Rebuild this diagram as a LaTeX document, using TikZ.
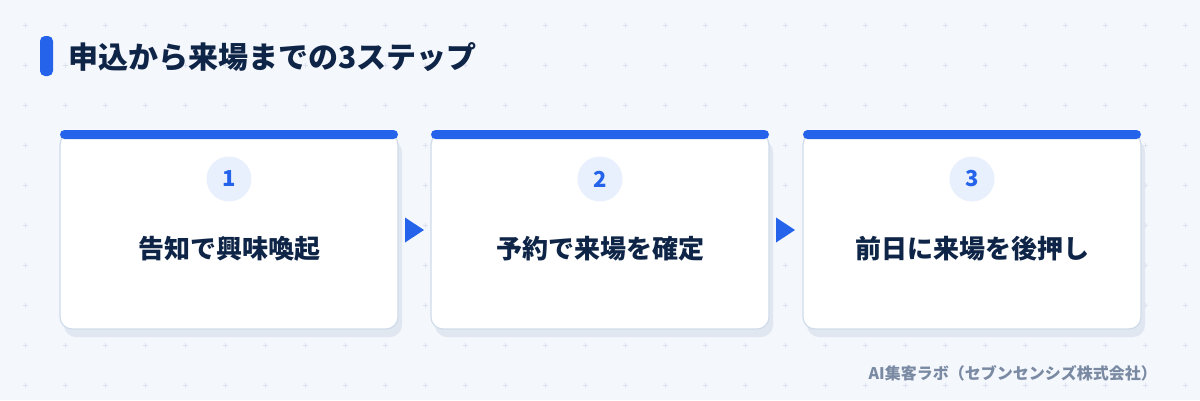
\documentclass[tikz,border=0pt]{standalone}
\usepackage{fontspec}
\setmainfont{Noto Sans CJK JP}
\definecolor{bgc}{HTML}{F4F7FC}
\definecolor{dotc}{HTML}{DCE3EE}
\definecolor{accent}{HTML}{2563EB}
\definecolor{navy}{HTML}{0F2547}
\definecolor{cardborder}{HTML}{CFDBEA}
\definecolor{shadowc}{HTML}{E0E7F1}
\definecolor{circfill}{HTML}{E8F0FD}
\definecolor{footc}{HTML}{7A8AA3}
\tikzset{
  cardbox/.style={draw=cardborder, line width=1.2pt, fill=white, rounded corners=12pt},
  shadowbox/.style={fill=shadowc, rounded corners=12pt},
  topbar/.style={fill=accent, rounded corners=4.5pt},
  numcirc/.style={circle, fill=circfill, minimum size=45pt, inner sep=0pt,
    text=accent, font=\bfseries\fontsize{22}{22}\selectfont},
  cardtext/.style={text=navy, font=\bfseries\fontsize{26}{26}\selectfont},
  flowarrow/.style={fill=accent},
}
\begin{document}
\begin{tikzpicture}[x=1pt,y=-1pt]
\fill[bgc] (0,0) rectangle (1200,400);
\useasboundingbox (0,0) rectangle (1200,400);
% dot grid
\foreach \i in {0,...,29}{
  \foreach \j in {0,...,9}{
    \draw[dotc, line width=0.8pt] ({25+40*\i-2.5},{25+40*\j}) -- ++(5,0) ({25+40*\i},{25+40*\j-2.5}) -- ++(0,5);
  }
}
% title
\fill[accent, rounded corners=5pt] (40,36) rectangle (53,76);
\node[anchor=west, text=navy, font=\bfseries\fontsize{30}{30}\selectfont, inner sep=0pt] (title) at (68,57) {申込から来場までの3ステップ};
% cards
\foreach \n/\x/\t in {1/60/告知で興味喚起, 2/431/予約で来場を確定, 3/803/前日に来場を後押し}{
  \fill[shadowbox] (\x+4,140) rectangle (\x+342,337);
  \draw[cardbox] (\x,133) rectangle (\x+338,329);
  \fill[topbar] (\x,130) rectangle (\x+338,139);
  \node[numcirc] (num\n) at (\x+169,179) {\n};
  \node[cardtext] (txt\n) at (\x+169,249) {\t};
}
\coordinate (a1) at (405,230);
\coordinate (a2) at (776,230);
\fill[flowarrow] (a1) ++(0,-12.5) -- ++(19,12.5) -- ++(-19,12.5) -- cycle;
\fill[flowarrow] (a2) ++(0,-12.5) -- ++(19,12.5) -- ++(-19,12.5) -- cycle;
% footer
\node[anchor=east, text=footc, font=\bfseries\fontsize{16}{16}\selectfont, inner sep=0pt] (foot) at (1157,373) {AI集客ラボ（セブンセンシズ株式会社）};
\end{tikzpicture}
\end{document}
